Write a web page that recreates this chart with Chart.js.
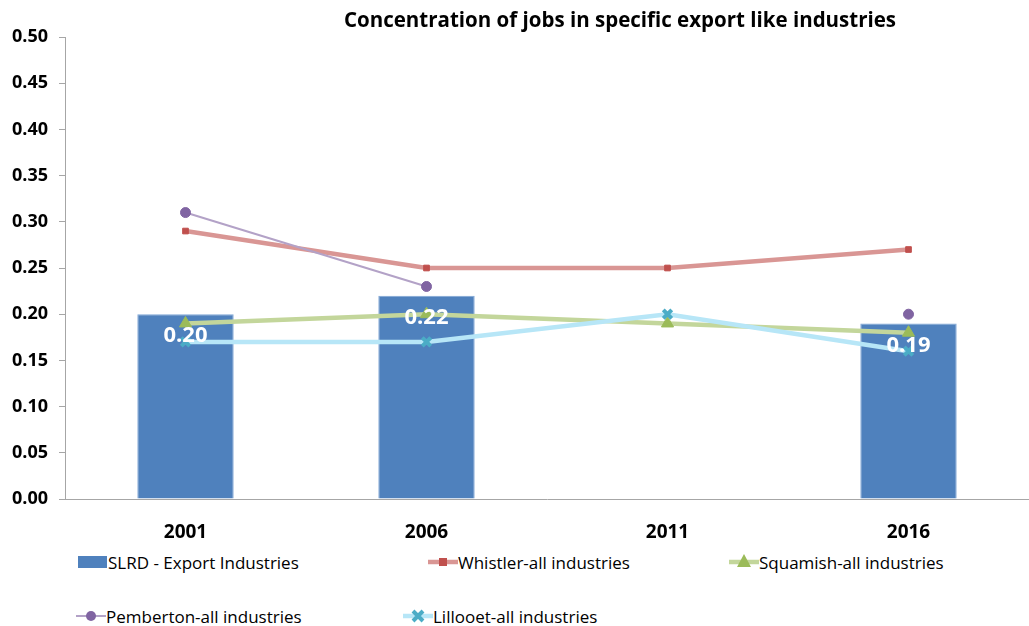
<!DOCTYPE html>
<html>
<head>
<meta charset="utf-8">
<script src="https://cdn.jsdelivr.net/npm/chart.js@4.4.0/dist/chart.umd.min.js"></script>
<style>
  body { margin: 0; background: #fff; font-family: "Open Sans", sans-serif; }
  #wrap { position: relative; width: 1029px; height: 626px; overflow: hidden; }
  #titulo { position: absolute; top: 5px; left: 0; width: 1240px; text-align: center;
            font-weight: bold; font-size: 20.5px; color: #000; }
  #grafico { position: absolute; left: 0; top: 0; }
  .ley { position: absolute; display: flex; align-items: center; font-size: 17px; color: #000; white-space: nowrap; }
  .ley svg { display: block; }
</style>
</head>
<body>
<div id="wrap">
  <canvas id="grafico" width="1029" height="545"></canvas>
  <div id="titulo">Concentration of jobs in specific export like industries</div>
  <div id="leyenda"></div>
</div>
<script>
// años del censo
const anios = ["2001", "2006", "2011", "2016"];

// SLRD - industrias de exportación (barras)
const slrdExport = [0.20, 0.22, null, 0.19];

// municipios, todas las industrias (líneas)
const whistler = [0.29, 0.25, 0.25, 0.27];
const squamish = [0.19, 0.20, 0.19, 0.18];
const pemberton = [0.31, 0.23, null, 0.20];
const lillooet = [0.17, 0.17, 0.20, 0.16];

const nombres = [
  "SLRD - Export Industries",
  "Whistler-all industries",
  "Squamish-all industries",
  "Pemberton-all industries",
  "Lillooet-all industries",
];

const ticksY = [0, 0.05, 0.10, 0.15, 0.20, 0.25, 0.30, 0.35, 0.40, 0.45, 0.50];

// etiquetas blancas dentro de las barras
const etiquetasBarras = {
  id: "etiquetasBarras",
  afterDatasetsDraw(chart) {
    const meta = chart.getDatasetMeta(0);
    const ctx = chart.ctx;
    ctx.save();
    ctx.fillStyle = "#fff";
    ctx.font = "bold 22px 'Open Sans'";
    ctx.textAlign = "center";
    ctx.textBaseline = "middle";
    meta.data.forEach((barra, i) => {
      const v = slrdExport[i];
      if (v === null) return;
      ctx.fillText(v.toFixed(2), barra.x, barra.y + 22);
    });
    ctx.restore();
  },
};

const ctx = document.getElementById("grafico").getContext("2d");
new Chart(ctx, {
  type: "bar",
  data: {
    labels: anios,
    datasets: [
      {
        label: nombres[0],
        data: slrdExport,
        backgroundColor: "#4F81BD",
        borderColor: "#7FA6D6",
        borderWidth: 1,
        barPercentage: 0.4,
        categoryPercentage: 1,
        order: 5,
      },
      {
        type: "line",
        label: nombres[1],
        data: whistler,
        borderColor: "#D99694",
        borderWidth: 4.5,
        pointStyle: "rect",
        pointRadius: 4,
        pointBackgroundColor: "#C0504D",
        pointBorderColor: "#C0504D",
        pointBorderWidth: 1,
        order: 4,
      },
      {
        type: "line",
        label: nombres[2],
        data: squamish,
        borderColor: "#C3D69B",
        borderWidth: 4.5,
        pointStyle: "triangle",
        pointRadius: 7,
        pointBackgroundColor: "#9BBB59",
        pointBorderColor: "#9BBB59",
        pointBorderWidth: 1,
        order: 3,
      },
      {
        type: "line",
        label: nombres[3],
        data: pemberton,
        borderColor: "#B3A2C7",
        borderWidth: 2,
        pointStyle: "circle",
        pointRadius: 5,
        pointBackgroundColor: "#8064A2",
        pointBorderColor: "#8064A2",
        pointBorderWidth: 1,
        spanGaps: false,
        order: 2,
      },
      {
        type: "line",
        label: nombres[4],
        data: lillooet,
        borderColor: "#B7E6F7",
        borderWidth: 4.5,
        pointStyle: "crossRot",
        pointRadius: 6,
        pointBorderColor: "#4BACC6",
        pointBorderWidth: 4,
        order: 1,
      },
    ],
  },
  options: {
    responsive: false,
    animation: false,
    layout: { autoPadding: false, padding: { top: 37, right: 0, left: 0, bottom: 0 } },
    plugins: {
      legend: { display: false },
      tooltip: { enabled: false },
      title: { display: false },
    },
    scales: {
      x: {
        grid: { display: false },
        border: { display: true, color: "#A6A6A6", width: 1 },
        ticks: {
          color: "#000",
          font: { family: "Open Sans", size: 19, weight: "bold" },
          padding: 14,
        },
        afterFit(scale) { scale.height = 46; },
      },
      y: {
        min: 0,
        max: 0.5,
        afterBuildTicks(scale) {
          scale.ticks = ticksY.map((v) => ({ value: v }));
        },
        grid: { drawOnChartArea: false, drawTicks: true, tickLength: 6, color: "#A6A6A6" },
        border: { display: true, color: "#A6A6A6", width: 1 },
        ticks: {
          color: "#000",
          font: { family: "Open Sans", size: 18, weight: "bold" },
          padding: 11,
          callback: (v) => Number(v).toFixed(2),
        },
        afterFit(scale) { scale.width = 65; },
      },
    },
  },
  plugins: [etiquetasBarras],
});

// leyenda en html, tres columnas
const posLeyenda = [
  { left: 78, top: 550 },
  { left: 428, top: 550 },
  { left: 729, top: 550 },
  { left: 76, top: 604 },
  { left: 403, top: 604 },
];

function marcador(i) {
  const ds = Chart.getChart("grafico").data.datasets[i];
  if (i === 0) {
    return '<svg width="30" height="24"><rect x="0" y="6" width="29" height="12" fill="' + ds.backgroundColor + '"/></svg>';
  }
  let punto = "";
  const c = ds.pointBackgroundColor;
  if (ds.pointStyle === "rect") punto = '<rect x="11" y="8" width="8" height="8" fill="' + c + '"/>';
  if (ds.pointStyle === "triangle") punto = '<polygon points="15,4 22,17 8,17" fill="' + c + '"/>';
  if (ds.pointStyle === "circle") punto = '<circle cx="15" cy="12" r="5" fill="' + c + '"/>';
  if (ds.pointStyle === "crossRot") {
    const b = ds.pointBorderColor;
    punto = '<path d="M10 7 L20 17 M20 7 L10 17" stroke="' + b + '" stroke-width="4"/>';
  }
  return '<svg width="30" height="24"><line x1="0" y1="12" x2="30" y2="12" stroke="' + ds.borderColor +
    '" stroke-width="' + ds.borderWidth + '"/>' + punto + '</svg>';
}

const leyenda = document.getElementById("leyenda");
nombres.forEach((n, i) => {
  const item = document.createElement("div");
  item.className = "ley";
  item.style.left = posLeyenda[i].left + "px";
  item.style.top = posLeyenda[i].top + "px";
  item.innerHTML = marcador(i) + "<span>" + n + "</span>";
  leyenda.appendChild(item);
});
</script>
</body>
</html>
